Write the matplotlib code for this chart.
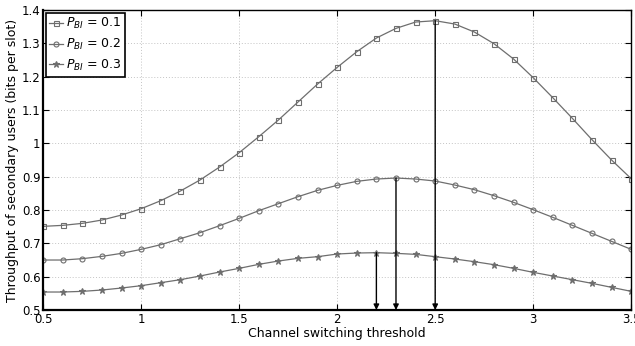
import numpy as np
import matplotlib.pyplot as plt

# threshold values on the x axis
x = np.round(np.arange(0.5, 3.51, 0.1), 1)

# throughput for P_BI = 0.1
thr_01 = [0.751, 0.754, 0.760, 0.770, 0.785, 0.804, 0.828, 0.857, 0.890, 0.929,
          0.972, 1.020, 1.070, 1.124, 1.178, 1.228, 1.275, 1.316, 1.345, 1.364,
          1.368, 1.358, 1.334, 1.299, 1.253, 1.197, 1.137, 1.075, 1.011, 0.950,
          0.894]
# throughput for P_BI = 0.2
thr_02 = [0.650, 0.650, 0.654, 0.661, 0.670, 0.682, 0.696, 0.714, 0.732, 0.753,
          0.775, 0.798, 0.819, 0.840, 0.859, 0.874, 0.886, 0.893, 0.896, 0.893,
          0.887, 0.875, 0.861, 0.843, 0.823, 0.801, 0.778, 0.754, 0.730, 0.706,
          0.682]
# throughput for P_BI = 0.3
thr_03 = [0.554, 0.554, 0.556, 0.560, 0.566, 0.573, 0.582, 0.591, 0.602, 0.614,
          0.625, 0.637, 0.647, 0.655, 0.660, 0.668, 0.671, 0.672, 0.670, 0.667,
          0.660, 0.653, 0.645, 0.636, 0.625, 0.613, 0.602, 0.591, 0.580, 0.568,
          0.556]

labels = [r'$P_{BI}$ = 0.1', r'$P_{BI}$ = 0.2', r'$P_{BI}$ = 0.3']
markers = ['s', 'o', '*']

# optimum thresholds marked with arrows
opt_x = [2.2, 2.3, 2.5]
opt_y = [0.672, 0.896, 1.368]

plt.rcParams['font.family'] = ['DejaVu Sans']
plt.rcParams['mathtext.fontset'] = 'dejavusans'

fig = plt.figure(figsize=(6.35, 3.46), dpi=100)
ax = fig.add_axes([0.068, 0.104, 0.926, 0.867])

gray = '#6e6e6e'
for ys, lab, m in zip([thr_01, thr_02, thr_03], labels, markers):
    ax.plot(x, ys, color=gray, lw=0.9, marker=m, ms=3.6 if m != '*' else 4.5,
            mfc='none' if m != '*' else gray, mec=gray, mew=0.8, label=lab)

for xo, yo in zip(opt_x, opt_y):
    ax.annotate('', xy=(xo, 0.5), xytext=(xo, yo),
                arrowprops=dict(arrowstyle='-|>', color='black', lw=1.0,
                                mutation_scale=8, shrinkA=0, shrinkB=0))

ax.set_xlim(0.5, 3.5)
ax.set_ylim(0.5, 1.4)
ax.set_xticks([0.5, 1, 1.5, 2, 2.5, 3, 3.5])
ax.set_xticklabels(['0.5', '1', '1.5', '2', '2.5', '3', '3.5'])
ax.set_yticks(np.round(np.arange(0.5, 1.41, 0.1), 1))
ax.set_yticklabels(['0.5', '0.6', '0.7', '0.8', '0.9', '1', '1.1', '1.2', '1.3', '1.4'])
ax.tick_params(direction='in', top=True, right=True, labelsize=8.5, length=4, pad=2)
ax.grid(True, color='#c4c4c4', linestyle=(0, (1, 2)), linewidth=0.7)

for s in ['left', 'bottom']:
    ax.spines[s].set_linewidth(1.6)
for s in ['top', 'right']:
    ax.spines[s].set_linewidth(1.0)

ax.set_xlabel('Channel switching threshold', fontsize=9, labelpad=1)
ax.set_ylabel('Throughput of secondary users (bits per slot)', fontsize=9,
              labelpad=2)

leg = ax.legend(loc='upper left', fontsize=9, fancybox=False, framealpha=1,
                edgecolor='black', borderaxespad=0.2, handlelength=1.1,
                handletextpad=0.2, labelspacing=0.45, borderpad=0.3)
leg.get_frame().set_linewidth(1.2)

fig.savefig('out.png', dpi=100)
